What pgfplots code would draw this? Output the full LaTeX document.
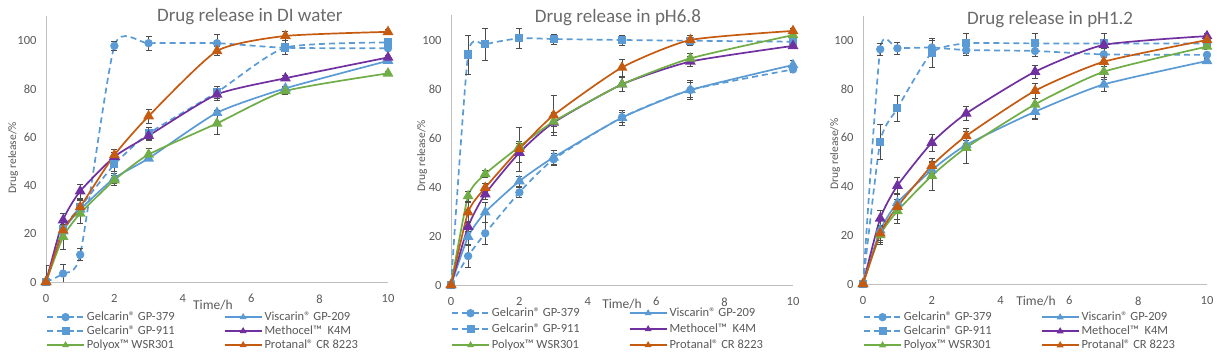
\documentclass[border=0pt]{standalone}
\usepackage{pgfplots}
\pgfplotsset{compat=1.18}
\usepackage{pgfplotstable}
\usepackage{fontspec}
\setmainfont{Carlito}

\definecolor{cblue}{HTML}{5B9BD5}
\definecolor{cpurple}{HTML}{7030A0}
\definecolor{cgreen}{HTML}{70AD47}
\definecolor{corange}{HTML}{C55A11}
\definecolor{cgray}{HTML}{595959}
\definecolor{caxis}{HTML}{BFBFBF}

% a = Gelcarin GP-379, b = Viscarin GP-209, c = Gelcarin GP-911,
% d = Methocel K4M, e = Polyox WSR301, f = Protanal CR 8223
\pgfplotstableread{
x    a     ea   b     eb   c     ec   d     ed   e     ee   f     ef
0    0     0    0     0    0     7    0     0    0     0    0     0
0.5  3.5   4    21    2    22    2    25.6  3    18.7  5    21.4  2
1    11.3  2.5  30    2    31    3    37.6  3    28.4  4    31.1  3
2    97.8  2    43    2    48.7  3    51.9  2    42.2  2    52.6  2.5
3    98.9  3    51.2  1    61.5  2.5  60.6  2    52.8  2.5  68.7  3
5    98.9  3.5  70.1  1    78.6  2.5  77.7  2.5  65.7  4.5  95.7  2
7    97.0  1    80.2  1    97.1  3    84.4  1    79.1  1.5  101.9 2
10   96.8  1    91.6  1    99.2  1    93.0  1    86.4  1    103.6 1
}\tabDI

\pgfplotstableread{
x    a     ea   b     eb   c     ec   d     ed   e     ee   f     ef
0    0     0    0     0    0     0    0     0    0     0    0     0
0.5  11.8  4.5  19.7  3    94.1  8    23.8  2    36.3  2    29.7  4
1    21.1  4.5  29.7  4    98.2  6.5  37.1  2    45.3  1.5  39.7  2
2    37.8  2    42.4  2    100.7 4    54.0  4    56.5  2    55.5  9
3    51.3  2.5  52.1  3    100.4 2    66.3  4    66.7  2    69.3  8
5    68.4  2    68.3  3    100.0 2    81.9  3    81.9  3    88.8  3.5
7    79.6  3    79.6  4    99.7  1.5  91.2  2    92.5  2    100.0 2
10   88.0  1    89.8  2    99.3  1    97.6  1    102.0 1    103.7 1
}\tabSix

\pgfplotstableread{
x    a     ea   b     eb   c     ec   d     ed   e     ee   f     ef
0    0     0    0     0    0     0    0     0    0     0    0     0
0.5  96.2  2.5  22    5    58.3  7    26.9  3.5  20.1  4    20.8  3
1    96.6  2.5  33.3  4    72.0  5.5  40.3  3.5  29.9  5    31.7  5
2    96.9  3    46.7  3    94.8  6    57.9  3.5  44.4  6    48.5  3
3    95.9  2    57.0  2    98.6  4    69.9  3    55.9  6.5  60.7  3
5    95.5  2    70.6  2.5  98.6  4    87.0  2.5  73.6  6    79.2  3
7    94.1  1    81.8  3    98.6  4    98.0  1.5  87.0  3    91.1  2
10   93.9  1    91.4  1    98.6  1    101.6 1    97.3  1    100.0 1
}\tabOne

\pgfplotsset{
  err/.style={error bars/.cd, y dir=both, y explicit,
    error bar style={line width=0.6pt, color=black!70, solid},
    error mark options={rotate=90, mark size=3pt, line width=0.6pt, black!70, solid}},
  ser/.style={color=#1, line width=1.7pt, smooth, tension=0.35,
    mark options={solid, fill=#1, draw=#1}},
  tri/.style={ser=#1, mark=triangle*, mark size=4.6pt,
    legend image post style={mark size=2.4pt}},
  dsh/.style={dash pattern=on 6pt off 4pt},
  panel/.style={
    scale only axis, xmin=0, xmax=10, ymin=0, ymax=110,
    xtick={0,2,...,10}, ytick={0,20,...,100},
    axis lines*=left, axis line style={caxis, line width=0.8pt},
    major tick length=0pt,
    /pgf/number format/assume math mode=true,
    tick label style={font=\fontsize{12.5}{14}\selectfont, text=cgray},
    xticklabel style={yshift=-9pt},
    yticklabel style={xshift=-6pt},
    xlabel={Time/h}, ylabel={Drug release/\%},
    xlabel style={font=\fontsize{13.5}{15}\selectfont, text=cgray, anchor=center},
    ylabel style={font=\fontsize{11.5}{13}\selectfont, text=cgray, anchor=center},
    every axis title shift=0pt,
    title style={font=\fontsize{19}{22}\selectfont, text=cgray!90, anchor=center},
    legend cell align=left,
    legend columns=2,
    legend image code/.code={\draw[mark repeat=2,mark phase=2,##1] plot coordinates {(0pt,0pt) (18.5pt,0pt) (37pt,0pt)};},
    legend style={draw=none, fill=none, inner sep=0pt, anchor=north west,
      font=\fontsize{12.5}{14}\selectfont, text=cgray,
      nodes={inner xsep=2pt, inner ysep=0pt, text height=9pt, text depth=3pt},
      /tikz/column 2/.style={column sep=47pt}},
  }
}

\newcommand{\sixplots}[1]{%
  \addplot[ser=cblue, dsh, mark=*, mark size=3.3pt, err] table[x=x, y=a, y error=ea]{#1};
  \addplot[tri=cblue, err] table[x=x, y=b, y error=eb]{#1};
  \addplot[ser=cblue, dsh, mark=square*, mark size=3.2pt, err] table[x=x, y=c, y error=ec]{#1};
  \addplot[tri=cpurple, err] table[x=x, y=d, y error=ed]{#1};
  \addplot[tri=cgreen, err] table[x=x, y=e, y error=ee]{#1};
  \addplot[tri=corange, err] table[x=x, y=f, y error=ef]{#1};
  \legend{Gelcarin® GP-379, Viscarin® GP-209, Gelcarin® GP-911, Methocel™~~K4M, Polyox™ WSR301, Protanal® CR 8223}
}

\begin{document}
\begin{tikzpicture}
\path[use as bounding box] (0,0) rectangle (1223pt,356pt);

\begin{axis}[panel, at={(46pt,74pt)}, anchor=south west,
  width=342pt, height=265.6pt,
  title={Drug release in DI water},
  title style={at={(axis description cs:0.596,0.998)}},
  xlabel style={at={(axis description cs:0.488,0)}, yshift=-23pt},
  ylabel style={at={(axis description cs:0,0.467)}, yshift=33pt},
  legend style={at={(axis description cs:0,-0.109)}, row sep=2pt}]
\sixplots{\tabDI}
\end{axis}

\begin{axis}[panel, at={(451pt,71pt)}, anchor=south west,
  width=342pt, height=269.5pt,
  title={Drug release in pH6.8},
  title style={at={(axis description cs:0.488,0.994)}},
  xlabel style={at={(axis description cs:0.5,0)}, yshift=-19pt},
  ylabel style={at={(axis description cs:0,0.479)}, yshift=29pt},
  legend style={at={(axis description cs:0,-0.0816)}, row sep=4pt}]
\sixplots{\tabSix}
\end{axis}

\begin{axis}[panel, at={(863pt,72pt)}, anchor=south west,
  width=344pt, height=268.4pt,
  title={Drug release in pH1.2},
  title style={at={(axis description cs:0.544,0.984)}},
  xlabel style={at={(axis description cs:0.503,0)}, yshift=-17pt},
  ylabel style={at={(axis description cs:0,0.484)}, yshift=28pt},
  legend style={at={(axis description cs:0,-0.1006)}, row sep=2pt}]
\sixplots{\tabOne}
\end{axis}
\end{tikzpicture}
\end{document}
